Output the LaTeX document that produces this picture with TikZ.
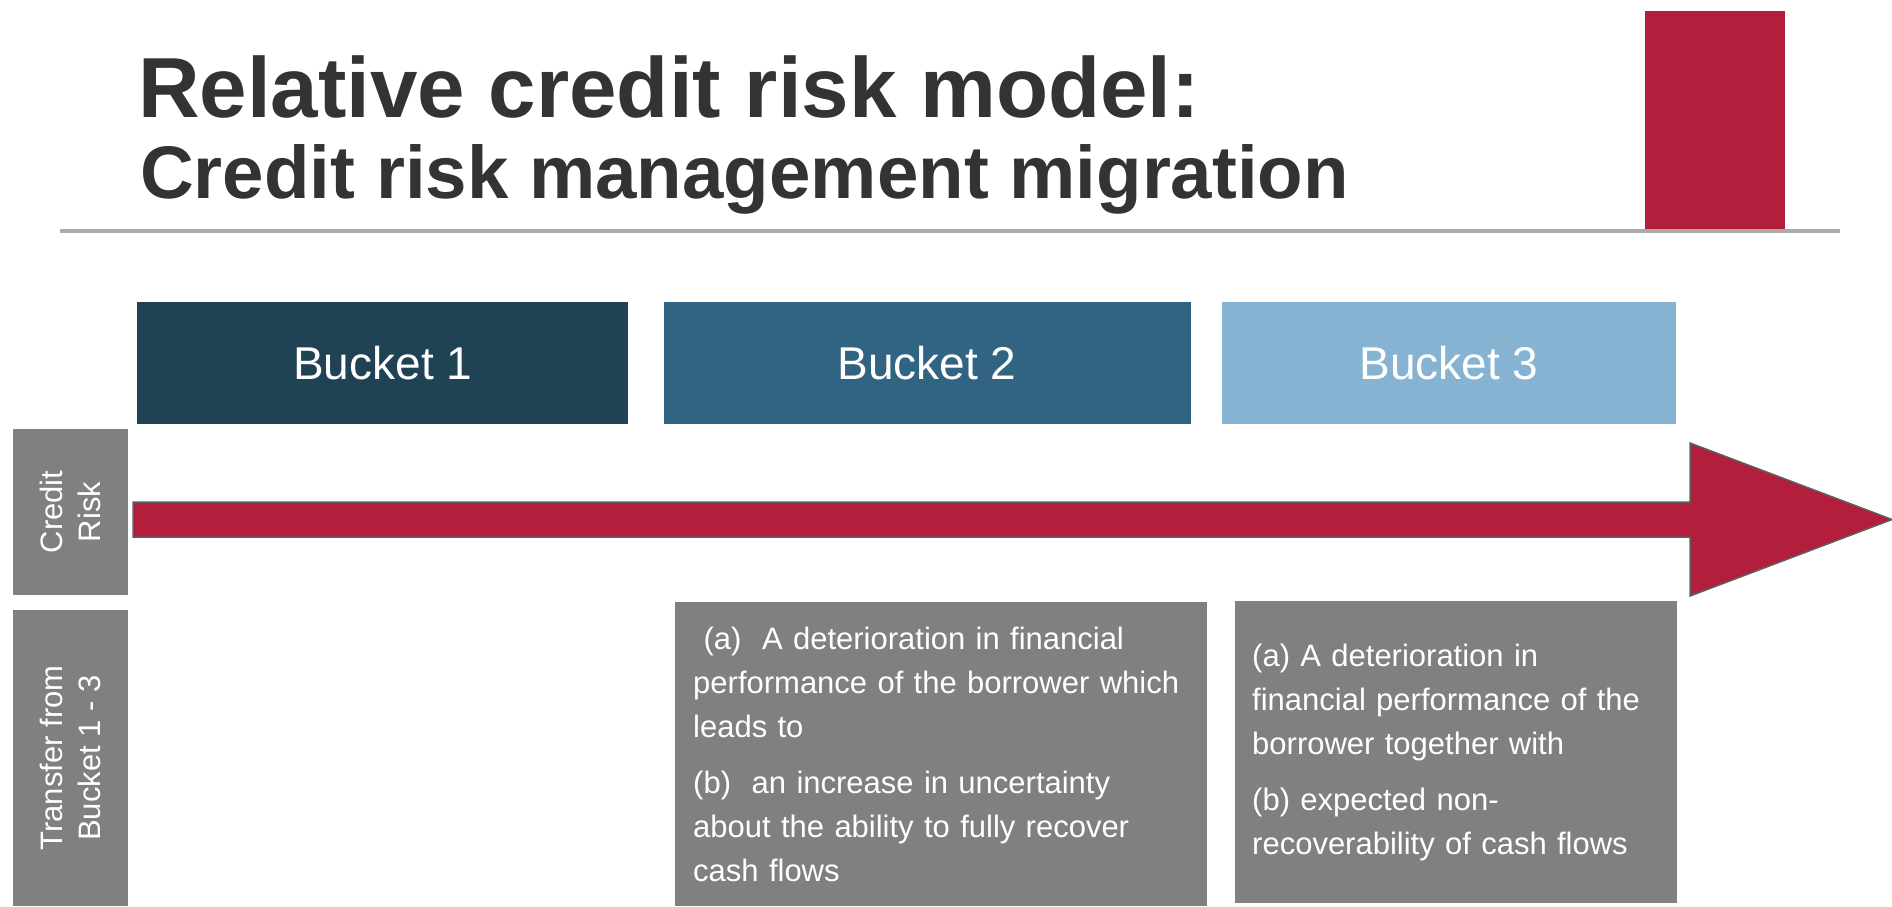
\documentclass[tikz,border=0pt]{standalone}
\usepackage{fontspec}
\setmainfont{Liberation Sans}
\usepackage{tikz}
\usetikzlibrary{positioning}
\definecolor{crred}{RGB}{178,30,59}
\definecolor{croutline}{RGB}{95,95,95}
\definecolor{crgrey}{RGB}{128,128,128}
\definecolor{crtitle}{RGB}{51,51,51}
\definecolor{crrule}{RGB}{171,171,171}
\definecolor{crdark}{RGB}{32,66,85}
\definecolor{crmid}{RGB}{49,100,130}
\definecolor{crlight}{RGB}{135,179,210}
\tikzstyle{titletext} = [anchor=base west, inner sep=0pt, text=crtitle]
\tikzstyle{bucket} = [rectangle, minimum height=122pt, inner sep=0pt, text=white, font=\fontsize{46}{52}\selectfont]
\tikzstyle{sidebox} = [rectangle, fill=crgrey, rotate=90, minimum height=115pt, inner sep=0pt, align=center, text=white, font=\fontsize{31}{38}\selectfont]
\tikzstyle{condbox} = [rectangle, fill=crgrey, anchor=north west, align=left, inner ysep=0pt, text=white, font=\fontsize{31}{44}\selectfont]

\begin{document}
\begin{tikzpicture}[x=1pt, y=-1pt]
\useasboundingbox (0,0) rectangle (1892,906);

% Title
\fill[crred] (1645,11) rectangle (1785,229);
\draw[crrule, line width=4pt] (60,231) -- (1840,231);
\node (title1) [titletext, font=\fontsize{85.3}{90}\selectfont\bfseries] at (138,117) {Relative credit risk model:};
\node (title2) [titletext, font=\fontsize{74.5}{80}\selectfont\bfseries] at (140,198) {Credit risk management migration};

% Buckets
\node (b1) [bucket, fill=crdark, minimum width=491pt, anchor=west] at (137,363) {Bucket 1};
\node (b2) [bucket, fill=crmid, minimum width=527pt, right=35pt of b1] {Bucket 2};
\node (b3) [bucket, fill=crlight, minimum width=454pt, right=31pt of b2] {Bucket 3};

% Credit risk arrow
\draw[croutline, fill=crred, line width=1.5pt] (133,502) -- (1690,502) -- (1690,443) -- (1892,519.5) -- (1690,596) -- (1690,537) -- (133,537) -- cycle;

% Row labels
\node (risk) [sidebox, minimum width=166pt] at (70.5,512) {Credit\\Risk};
\node (transfer) [sidebox, minimum width=296pt] at (70.5,758) {Transfer from\\Bucket 1 - 3};

% Transfer conditions
\node (cond2) [condbox, inner xsep=18pt, text width=496pt, minimum height=304pt] at (675,602)
  {\ (a)\ \ A deterioration in financial\\performance of the borrower which\\leads to\\[12pt](b)\ \ an increase in uncertainty\\about the ability to fully recover\\cash flows};
\node (cond3) [condbox, inner xsep=17pt, text width=408pt, minimum height=302pt] at (1235,601)
  {(a) A deterioration in\\financial performance of the\\borrower together with\\[12pt](b) expected non-\\recoverability of cash flows};
\end{tikzpicture}
\end{document}
